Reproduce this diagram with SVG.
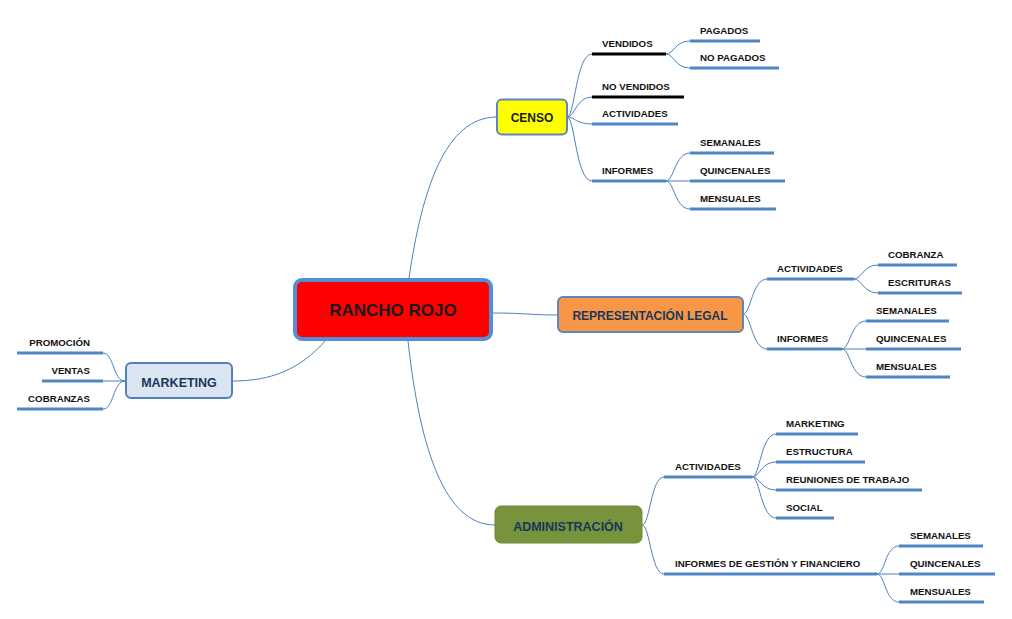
<svg xmlns="http://www.w3.org/2000/svg" width="1012" height="619" viewBox="0 0 1012 619">
<style>
.c{fill:none;stroke:#4f7fbf;stroke-width:1}
.u{stroke:#4f86c6;stroke-width:3}
.k{stroke:#000;stroke-width:3}
.s{font-family:"Liberation Sans",Arial,sans-serif;font-weight:bold;font-size:9.7px;fill:#111}
.m{font-family:"Liberation Sans",Arial,sans-serif;font-weight:bold;font-size:12.5px;fill:#17375e;text-anchor:middle}
</style>
<rect width="1012" height="619" fill="#fff"/>
<g id="connectors">
<path class="c" d="M409,278 C422,190 445,117 497,117"/>
<path class="c" d="M408,341 C420,450 445,525 495,525"/>
<path class="c" d="M493,313 C525,313 530,315 558,315"/>
<path class="c" d="M326,340 C300,370 270,381 233,381"/>
<path class="c" d="M567,117 C575,117 576,54 592,54"/>
<path class="c" d="M567,117 C575,117 576,97 592,97"/>
<path class="c" d="M567,117 C575,117 576,124 592,124"/>
<path class="c" d="M567,117 C575,117 576,181 592,181"/>
<path class="c" d="M666,54 C674,54 675,41 690,41"/>
<path class="c" d="M666,54 C674,54 675,68 690,68"/>
<path class="c" d="M666,181 C674,181 675,153 690,153"/>
<path class="c" d="M666,181 L690,181"/>
<path class="c" d="M666,181 C674,181 675,209 690,209"/>
<path class="c" d="M743,314 C751,314 752,279 767,279"/>
<path class="c" d="M743,314 C751,314 752,349 767,349"/>
<path class="c" d="M854,279 C862,279 863,265 878,265"/>
<path class="c" d="M854,279 C862,279 863,293 878,293"/>
<path class="c" d="M842,349 C850,349 851,321 866,321"/>
<path class="c" d="M842,349 L866,349"/>
<path class="c" d="M842,349 C850,349 851,377 866,377"/>
<path class="c" d="M642,525 C650,525 651,477 664,477"/>
<path class="c" d="M642,525 C650,525 651,574 664,574"/>
<path class="c" d="M752,477 C760,477 761,434 776,434"/>
<path class="c" d="M752,477 C760,477 761,462 776,462"/>
<path class="c" d="M752,477 C760,477 761,490 776,490"/>
<path class="c" d="M752,477 C760,477 761,518 776,518"/>
<path class="c" d="M877,574 C885,574 885,546 899,546"/>
<path class="c" d="M877,574 L899,574"/>
<path class="c" d="M877,574 C885,574 885,602 899,602"/>
<path class="c" d="M125,381 C113,381 114,353 103,353"/>
<path class="c" d="M125,381 L103,381"/>
<path class="c" d="M125,381 C113,381 114,409 103,409"/>
</g>
<g id="rancho-rojo">
<rect x="295" y="280" width="196" height="59" rx="7" fill="#ff0000" stroke="#558ed5" stroke-width="4"/>
<text x="393" y="316" font-family="Liberation Sans,Arial,sans-serif" font-weight="bold" font-size="17" fill="#1a1a1a" text-anchor="middle">RANCHO ROJO</text>
</g>
<g id="censo">
<rect x="497" y="99.5" width="70" height="35" rx="5" fill="#ffff00" stroke="#5b86c0" stroke-width="2"/>
<text x="532" y="122" class="m" style="font-size:12px;fill:#1a1a1a">CENSO</text>
</g>
<g id="vendidos"><line class="k" x1="592" y1="54" x2="666" y2="54"/><text class="s" x="602" y="47">VENDIDOS</text></g>
<g id="no-vendidos"><line class="k" x1="592" y1="97" x2="684" y2="97"/><text class="s" x="602" y="90">NO VENDIDOS</text></g>
<g id="censo-actividades"><line class="u" x1="592" y1="124" x2="678" y2="124"/><text class="s" x="602" y="117">ACTIVIDADES</text></g>
<g id="censo-informes"><line class="u" x1="592" y1="181" x2="666" y2="181"/><text class="s" x="602" y="174">INFORMES</text></g>
<g id="pagados"><line class="u" x1="690" y1="41" x2="760" y2="41"/><text class="s" x="700" y="34">PAGADOS</text></g>
<g id="no-pagados"><line class="u" x1="690" y1="68" x2="779" y2="68"/><text class="s" x="700" y="61">NO PAGADOS</text></g>
<g id="censo-semanales"><line class="u" x1="690" y1="153" x2="774" y2="153"/><text class="s" x="700" y="146">SEMANALES</text></g>
<g id="censo-quincenales"><line class="u" x1="690" y1="181" x2="785" y2="181"/><text class="s" x="700" y="174">QUINCENALES</text></g>
<g id="censo-mensuales"><line class="u" x1="690" y1="209" x2="776" y2="209"/><text class="s" x="700" y="202">MENSUALES</text></g>
<g id="representacion-legal">
<rect x="558" y="297" width="185" height="35" rx="5" fill="#f79646" stroke="#5b86c0" stroke-width="2"/>
<text x="650" y="320" class="m" style="font-size:12px">REPRESENTACIÓN LEGAL</text>
</g>
<g id="rl-actividades"><line class="u" x1="767" y1="279" x2="854" y2="279"/><text class="s" x="777" y="272">ACTIVIDADES</text></g>
<g id="rl-informes"><line class="u" x1="767" y1="349" x2="842" y2="349"/><text class="s" x="777" y="342">INFORMES</text></g>
<g id="rl-cobranza"><line class="u" x1="878" y1="265" x2="957" y2="265"/><text class="s" x="888" y="258">COBRANZA</text></g>
<g id="rl-escrituras"><line class="u" x1="878" y1="293" x2="962" y2="293"/><text class="s" x="888" y="286">ESCRITURAS</text></g>
<g id="rl-semanales"><line class="u" x1="866" y1="321" x2="949" y2="321"/><text class="s" x="876" y="314">SEMANALES</text></g>
<g id="rl-quincenales"><line class="u" x1="866" y1="349" x2="961" y2="349"/><text class="s" x="876" y="342">QUINCENALES</text></g>
<g id="rl-mensuales"><line class="u" x1="866" y1="377" x2="950" y2="377"/><text class="s" x="876" y="370">MENSUALES</text></g>
<g id="marketing">
<rect x="126" y="363" width="106" height="35" rx="5" fill="#dbe5f1" stroke="#4f81bd" stroke-width="2"/>
<text x="179" y="386.5" class="m">MARKETING</text>
</g>
<g id="mk-promocion"><line class="u" x1="17" y1="353" x2="103" y2="353"/><text class="s" x="90" y="346" text-anchor="end">PROMOCIÓN</text></g>
<g id="mk-ventas"><line class="u" x1="42" y1="381" x2="103" y2="381"/><text class="s" x="90" y="374" text-anchor="end">VENTAS</text></g>
<g id="mk-cobranzas"><line class="u" x1="17" y1="409" x2="103" y2="409"/><text class="s" x="90" y="402" text-anchor="end">COBRANZAS</text></g>
<g id="administracion">
<rect x="495" y="506" width="147" height="37" rx="6" fill="#77933c" stroke="#6f8a37" stroke-width="1"/>
<text x="568" y="530.5" class="m">ADMINISTRACIÓN</text>
</g>
<g id="ad-actividades"><line class="u" x1="664" y1="477" x2="752" y2="477"/><text class="s" x="675" y="470">ACTIVIDADES</text></g>
<g id="ad-informes"><line class="u" x1="664" y1="574" x2="877" y2="574"/><text class="s" x="675" y="567">INFORMES DE GESTIÓN Y FINANCIERO</text></g>
<g id="ad-marketing"><line class="u" x1="776" y1="434" x2="858" y2="434"/><text class="s" x="786" y="427">MARKETING</text></g>
<g id="ad-estructura"><line class="u" x1="776" y1="462" x2="865" y2="462"/><text class="s" x="786" y="455">ESTRUCTURA</text></g>
<g id="ad-reuniones"><line class="u" x1="776" y1="490" x2="922" y2="490"/><text class="s" x="786" y="483">REUNIONES DE TRABAJO</text></g>
<g id="ad-social"><line class="u" x1="776" y1="518" x2="834" y2="518"/><text class="s" x="786" y="511">SOCIAL</text></g>
<g id="ad-semanales"><line class="u" x1="899" y1="546" x2="983" y2="546"/><text class="s" x="910" y="539">SEMANALES</text></g>
<g id="ad-quincenales"><line class="u" x1="899" y1="574" x2="995" y2="574"/><text class="s" x="910" y="567">QUINCENALES</text></g>
<g id="ad-mensuales"><line class="u" x1="899" y1="602" x2="984" y2="602"/><text class="s" x="910" y="595">MENSUALES</text></g>
</svg>
